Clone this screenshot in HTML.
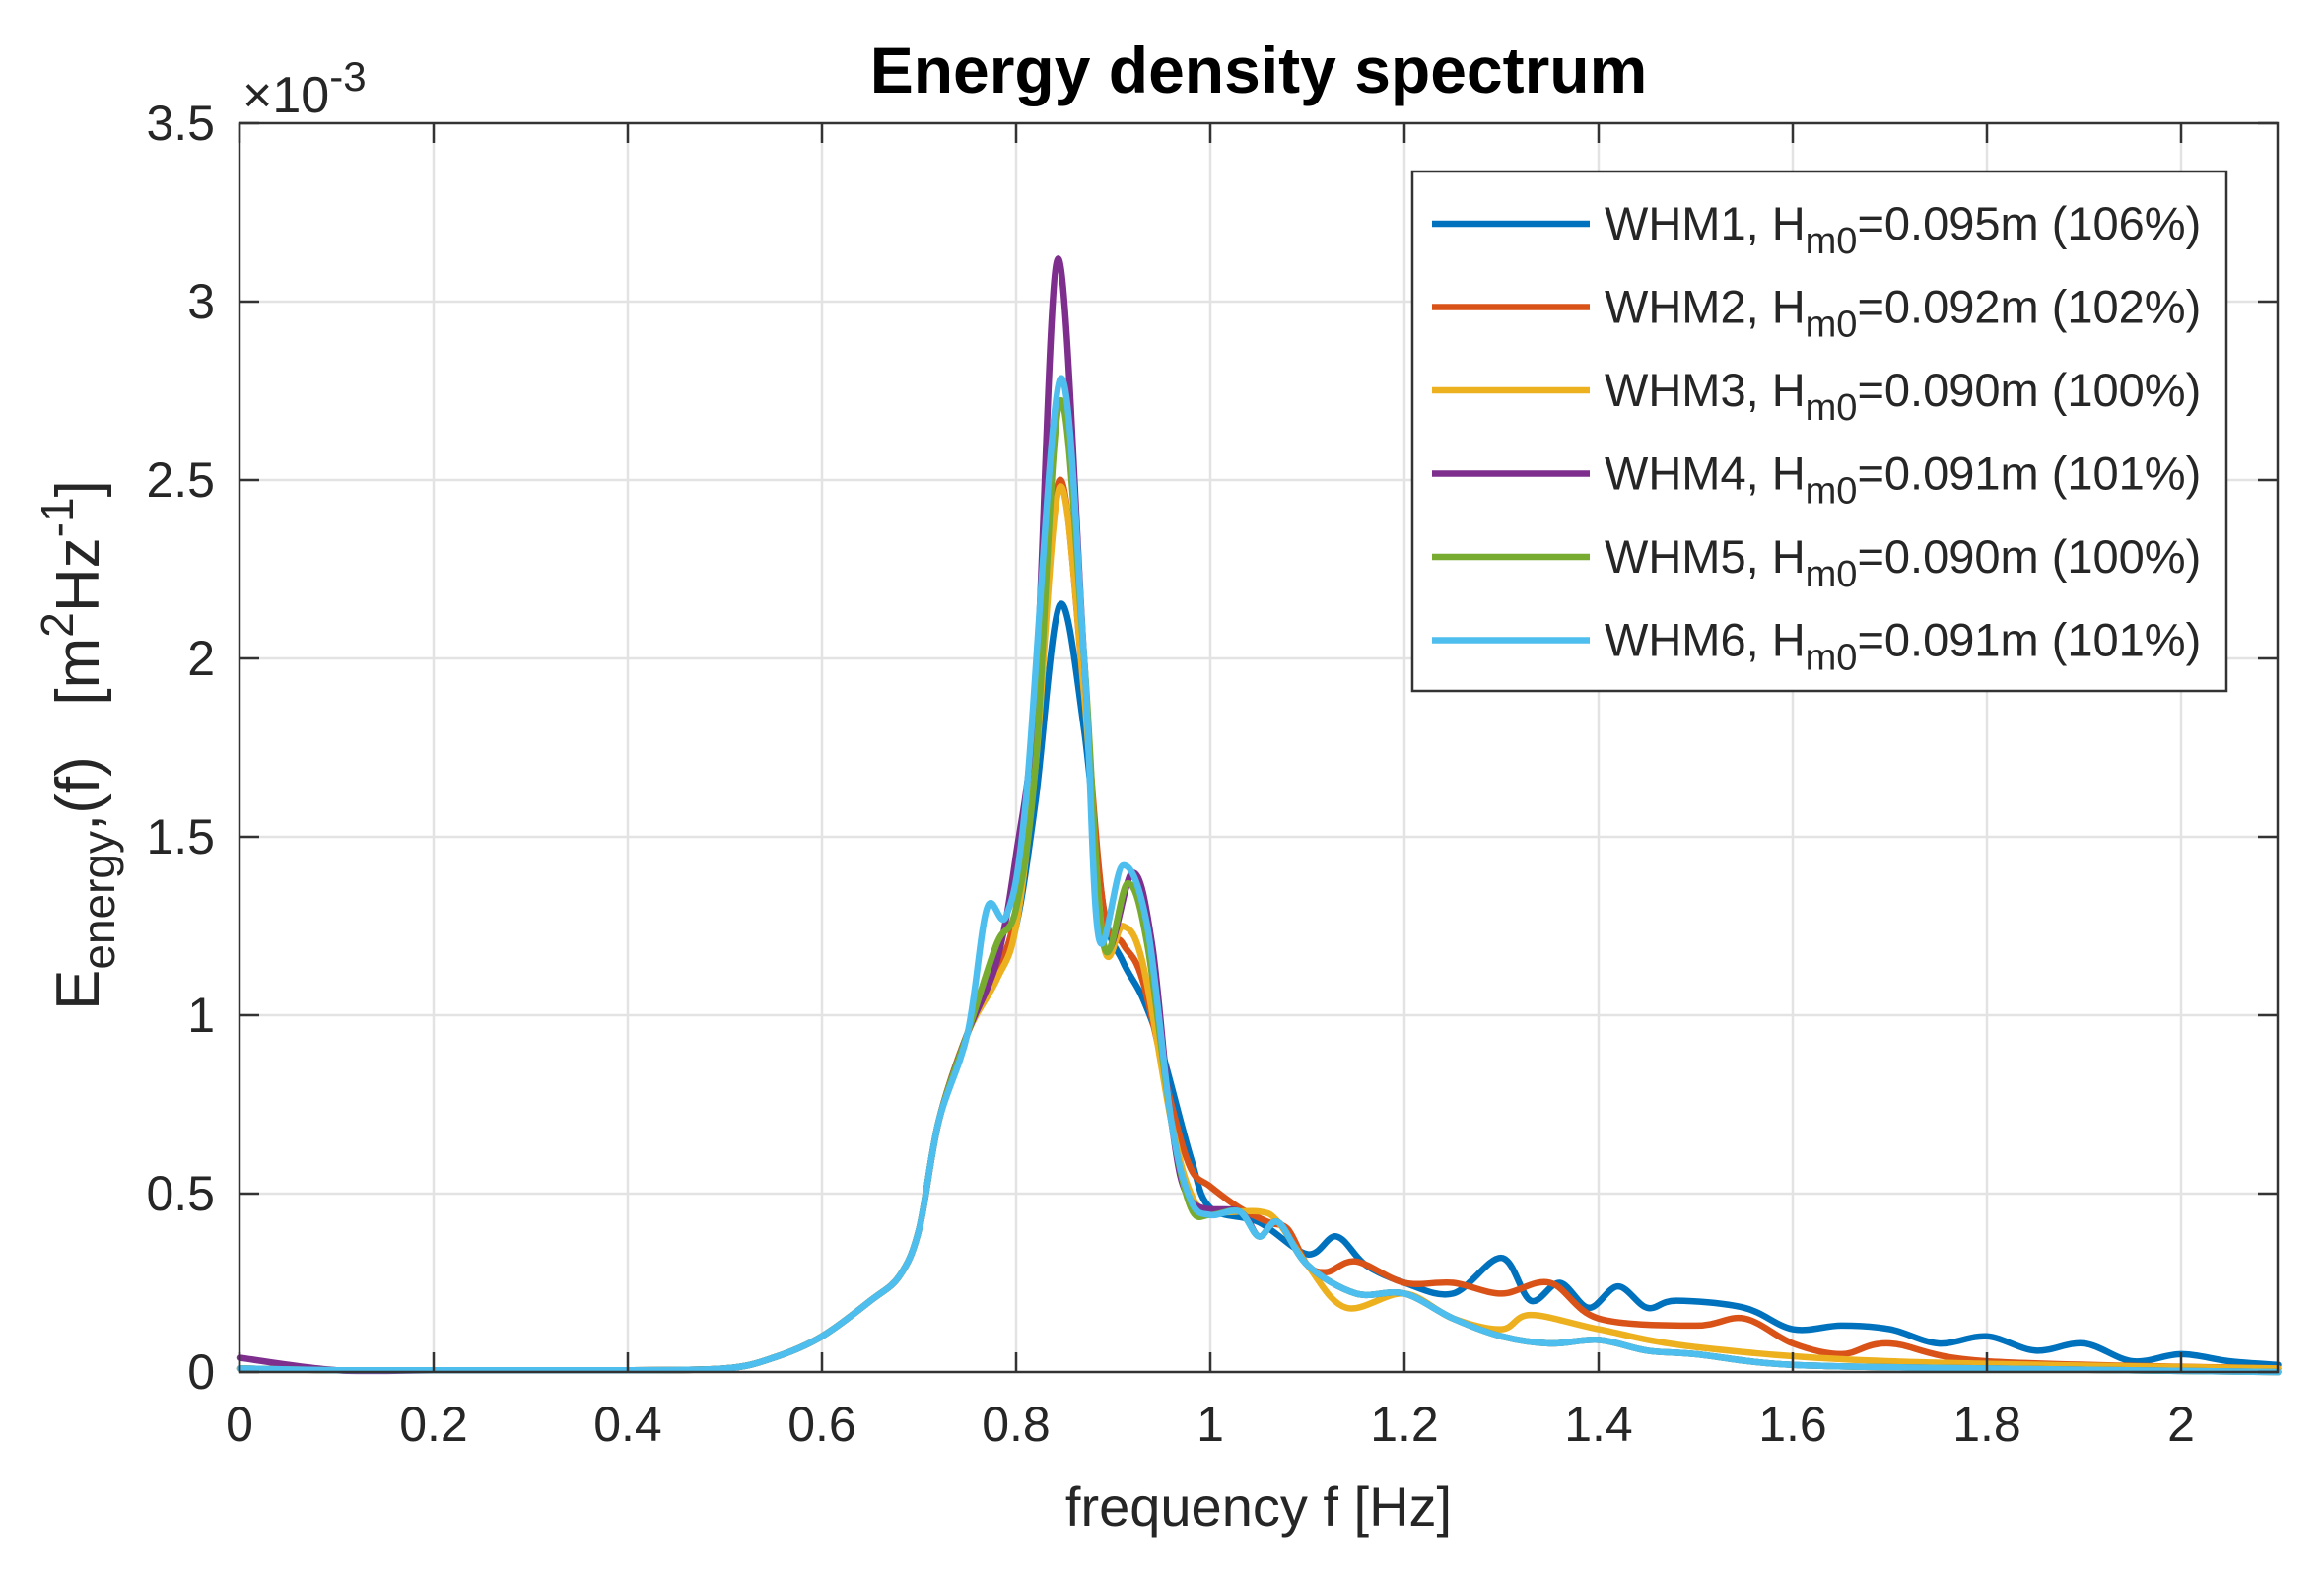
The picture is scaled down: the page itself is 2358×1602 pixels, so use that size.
<!DOCTYPE html>
<html><head><meta charset="utf-8">
<style>
html,body{margin:0;padding:0;background:#fff;}
svg{display:block;font-family:"Liberation Sans",sans-serif;}
</style></head>
<body>
<svg id="s" width="2358" height="1602" viewBox="0 0 2358 1602" xmlns="http://www.w3.org/2000/svg">
<rect width="2358" height="1602" fill="#fff"/>
<g id="grid" stroke="#e3e3e3" stroke-width="2.5"></g>
<g id="curves" fill="none" stroke-width="6.5" stroke-linejoin="round" stroke-linecap="round"></g>
<rect x="243" y="125" width="2068" height="1267" fill="none" stroke="#333" stroke-width="2.5"/>
<g id="ticks" stroke="#333" stroke-width="2.5"></g>
<g id="labels" font-size="50" fill="#262626"></g>
<text x="1277" y="94" font-size="66" font-weight="bold" text-anchor="middle" fill="#000">Energy density spectrum</text>
<text x="246" y="114" font-size="52" fill="#262626">×10<tspan dy="-22" font-size="42">-3</tspan></text>
<text x="1277" y="1548" font-size="56" text-anchor="middle" fill="#262626">frequency f [Hz]</text>
<g transform="translate(100,1025) rotate(-90)" fill="#262626" font-size="62">
<text x="0" y="0" xml:space="preserve" style="white-space:pre">E<tspan dy="16" font-size="46">energy</tspan><tspan dy="-16">,(f)   [m</tspan><tspan dy="-26" font-size="46">2</tspan><tspan dy="26">Hz</tspan><tspan dy="-26" font-size="46">-1</tspan><tspan dy="26">]</tspan></text>
</g>
<g id="legend">
<rect x="1433" y="174" width="826" height="527" fill="#fff" stroke="#333" stroke-width="2.5"/>
</g>
</svg>
<script>
const NS="http://www.w3.org/2000/svg";
const X=f=>243+f*985, Y=v=>1392-v*362;
function el(p,t,a){const e=document.createElementNS(NS,t);for(const k in a)e.setAttribute(k,a[k]);document.getElementById(p).appendChild(e);return e;}
for(let i=1;i<=10;i++){el('grid','line',{x1:X(i*0.2),x2:X(i*0.2),y1:125,y2:1392});}
for(let i=1;i<7;i++){el('grid','line',{x1:243,x2:2311,y1:Y(i*0.5),y2:Y(i*0.5)});}
for(let i=0;i<=10;i++){const x=X(i*0.2);el('ticks','line',{x1:x,x2:x,y1:1392,y2:1372});el('ticks','line',{x1:x,x2:x,y1:125,y2:145});
 const t=el('labels','text',{x:x,y:1462,'text-anchor':'middle'});t.textContent=(i==0?'0':(i%5==0?String(i/5):(i*0.2).toFixed(1)));}
for(let i=0;i<=7;i++){const y=Y(i*0.5);el('ticks','line',{x1:243,x2:263,y1:y,y2:y});el('ticks','line',{x1:2311,x2:2291,y1:y,y2:y});
 const t=el('labels','text',{x:218,y:y+17,'text-anchor':'end'});t.textContent=(i%2==0?String(i/2):(i*0.5).toFixed(1));}
const base=[[0,0.01],[0.1,0.005],[0.2,0.005],[0.3,0.005],[0.4,0.005],[0.5,0.01],[0.55,0.04],[0.6,0.1],[0.65,0.2],[0.68,0.27],[0.7,0.4],[0.72,0.7],[0.75,0.95]];
const tailS=[[1.0,0.44],[1.03,0.45],[1.05,0.38],[1.07,0.42],[1.1,0.3],[1.15,0.22],[1.2,0.22],[1.25,0.15],[1.3,0.1],[1.35,0.08],[1.4,0.09],[1.45,0.06],[1.5,0.05],[1.6,0.02],[1.8,0.01],[2.1,0.0]];
const S=[
 ['#0072BD',[...base,[0.78,1.12],[0.8,1.25],[0.82,1.6],[0.845,2.15],[0.87,1.8],[0.89,1.3],[0.91,1.15],[0.93,1.05],[0.95,0.9],[0.98,0.6],[1.0,0.46],[1.05,0.42],[1.1,0.33],[1.13,0.38],[1.16,0.3],[1.2,0.25],[1.25,0.22],[1.3,0.32],[1.33,0.2],[1.36,0.25],[1.39,0.18],[1.42,0.24],[1.45,0.18],[1.48,0.2],[1.55,0.18],[1.6,0.12],[1.65,0.13],[1.7,0.12],[1.75,0.08],[1.8,0.1],[1.85,0.06],[1.9,0.08],[1.95,0.03],[2.0,0.05],[2.05,0.03],[2.1,0.02]]],
 ['#D95319',[...base,[0.78,1.12],[0.8,1.3],[0.82,1.8],[0.845,2.5],[0.87,1.9],[0.89,1.3],[0.91,1.2],[0.93,1.1],[0.96,0.75],[0.98,0.57],[1.0,0.52],[1.03,0.46],[1.06,0.42],[1.08,0.4],[1.1,0.3],[1.12,0.28],[1.15,0.31],[1.2,0.25],[1.25,0.25],[1.3,0.22],[1.35,0.25],[1.4,0.15],[1.5,0.13],[1.55,0.15],[1.6,0.08],[1.65,0.05],[1.7,0.08],[1.8,0.03],[2.1,0.01]]],
 ['#EDB120',[...base,[0.78,1.1],[0.8,1.25],[0.82,1.7],[0.845,2.48],[0.87,1.9],[0.89,1.2],[0.91,1.25],[0.93,1.15],[0.96,0.7],[0.98,0.5],[1.0,0.45],[1.05,0.45],[1.07,0.42],[1.1,0.3],[1.14,0.18],[1.2,0.22],[1.25,0.15],[1.3,0.12],[1.33,0.16],[1.4,0.12],[1.5,0.07],[1.7,0.03],[2.1,0.01]]],
 ['#7E2F8E',[[0,0.04],...base.slice(1),[0.78,1.15],[0.8,1.45],[0.82,1.9],[0.843,3.12],[0.87,2.0],[0.89,1.2],[0.92,1.4],[0.94,1.2],[0.96,0.7],[0.98,0.48],...tailS.slice(1)]],
 ['#77AC30',[...base,[0.78,1.2],[0.8,1.3],[0.82,1.7],[0.845,2.72],[0.87,2.0],[0.89,1.2],[0.915,1.37],[0.935,1.2],[0.96,0.7],[0.98,0.46],...tailS]],
 ['#4DBEEE',[...base,[0.77,1.3],[0.79,1.28],[0.81,1.6],[0.845,2.78],[0.87,2.0],[0.885,1.22],[0.91,1.42],[0.935,1.25],[0.96,0.7],[0.98,0.48],...tailS]]
];
function path(pts){const P=pts.map(p=>[X(p[0]),Y(p[1])]);let d='M'+P[0][0]+','+P[0][1];
 for(let i=0;i<P.length-1;i++){const p0=P[Math.max(0,i-1)],p1=P[i],p2=P[i+1],p3=P[Math.min(P.length-1,i+2)];
 const c1=[p1[0]+(p2[0]-p0[0])/6,p1[1]+(p2[1]-p0[1])/6],c2=[p2[0]-(p3[0]-p1[0])/6,p2[1]-(p3[1]-p1[1])/6];
 d+=' C'+c1[0].toFixed(1)+','+Math.min(1392,c1[1]).toFixed(1)+' '+c2[0].toFixed(1)+','+Math.min(1392,c2[1]).toFixed(1)+' '+p2[0].toFixed(1)+','+p2[1].toFixed(1);}
 return d;}
S.forEach(s=>el('curves','path',{d:path(s[1]),stroke:s[0]}));
const L=[['WHM1','0.095','106'],['WHM2','0.092','102'],['WHM3','0.090','100'],['WHM4','0.091','101'],['WHM5','0.090','100'],['WHM6','0.091','101']];
L.forEach((l,i)=>{const y=227+i*84.5;el('legend','line',{x1:1453,x2:1613,y1:y,y2:y,stroke:S[i][0],'stroke-width':6.5});
 const t=el('legend','text',{x:1628,y:y+16,'font-size':47,fill:'#262626'});
 t.innerHTML=l[0]+', H<tspan dy="14" font-size="38">m0</tspan><tspan dy="-14">='+l[1]+'m ('+l[2]+'%)</tspan>';});
</script>
</body></html>
